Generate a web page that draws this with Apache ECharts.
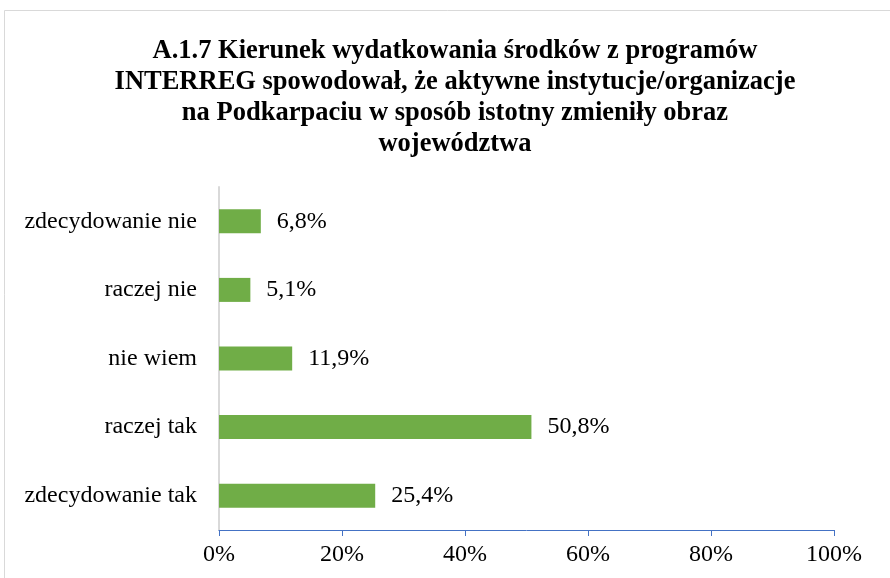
<!DOCTYPE html>
<html>
<head>
<meta charset="utf-8">
<script src="https://cdn.jsdelivr.net/npm/echarts@6/dist/echarts.min.js"></script>
<style>
  html, body { margin: 0; padding: 0; background: #fff; }
  #chart { width: 890px; height: 578px; }
</style>
</head>
<body>
<div id="chart"></div>
<script>
// dane wykresu
var categories = ['zdecydowanie tak', 'raczej tak', 'nie wiem', 'raczej nie', 'zdecydowanie nie'];
var values = [25.4, 50.8, 11.9, 5.1, 6.8];
var titleText = 'A.1.7 Kierunek wydatkowania środków z programów\nINTERREG spowodował, że aktywne instytucje/organizacje\nna Podkarpaciu w sposób istotny zmieniły obraz\nwojewództwa';

var font = '"Liberation Serif", "Times New Roman", serif';
var chart = echarts.init(document.getElementById('chart'));

var option = {
  animation: false,
  backgroundColor: '#fff',
  title: {
    text: titleText,
    left: 450,
    top: 31,
    textAlign: 'center',
    textStyle: {
      fontFamily: font,
      fontSize: 26.5,
      fontWeight: 'bold',
      color: '#000',
      lineHeight: 31
    }
  },
  graphic: [{
    type: 'rect',
    shape: { x: 4.5, y: 10.5, width: 900, height: 600 },
    style: { fill: 'none', stroke: '#d9d9d9', lineWidth: 1 },
    silent: true
  }],
  grid: { left: 219, right: 56, top: 187, bottom: 48 },
  xAxis: {
    type: 'value',
    min: 0,
    max: 100,
    interval: 20,
    axisLine: { show: true, lineStyle: { color: '#4472c4', width: 1 } },
    axisTick: { show: true, length: 6, lineStyle: { color: '#4472c4' } },
    splitLine: { show: false },
    axisLabel: {
      formatter: '{value}%',
      fontFamily: font,
      fontSize: 24,
      color: '#000',
      margin: 13
    }
  },
  yAxis: {
    type: 'category',
    data: categories,
    axisLine: { show: true, lineStyle: { color: '#d9d9d9', width: 2 } },
    axisTick: { show: false },
    axisLabel: {
      fontFamily: font,
      fontSize: 24,
      color: '#000',
      margin: 22
    }
  },
  series: [{
    type: 'bar',
    data: values,
    barWidth: 24,
    itemStyle: { color: '#70ad47' },
    label: {
      show: true,
      position: 'right',
      distance: 16,
      fontFamily: font,
      fontSize: 24,
      color: '#000',
      formatter: function (p) { return p.value.toFixed(1).replace('.', ',') + '%'; }
    }
  }]
};

chart.setOption(option);
</script>
</body>
</html>
